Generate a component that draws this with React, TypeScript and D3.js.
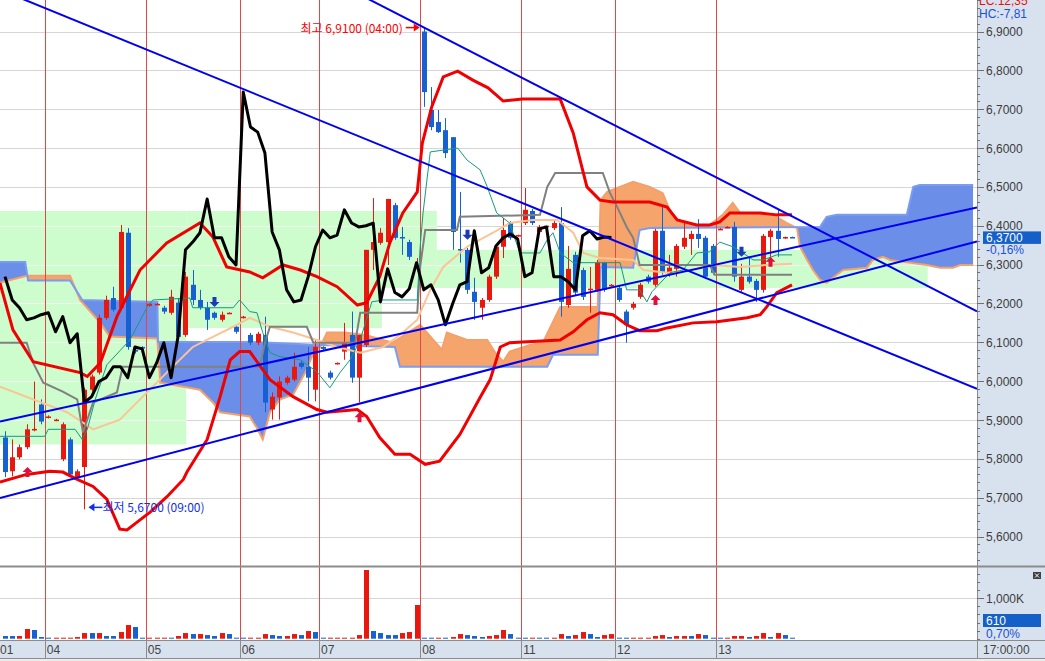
import React from 'react';
import * as d3 from 'd3';

type Knot = [number, number];

// ---------- DATA ----------
const dayLabels = ['01', '04', '05', '06', '07', '08', '11', '12', '13'];
const dayFirstBar = [0, 6, 20, 33, 44, 58, 72, 85, 99];

const open = [
  5.855, 5.768, 5.804, 5.830, 5.876, 5.940, 5.908, 5.900, 5.799, 5.850,
  5.753, 5.779, 5.978, 6.022, 6.163, 6.214, 6.189, 6.382, 6.081, 6.088,
  6.194, 6.199, 6.189, 6.176, 6.202, 6.119, 6.248, 6.209, 6.189, 6.176,
  6.158, 6.175, 6.140, 6.163, 6.119, 6.099, 6.119, 5.927, 5.958, 5.996,
  6.004, 6.047, 6.037, 5.978, 6.088, 6.022, 6.045, 6.076, 6.119, 6.009,
  6.093, 6.338, 6.356, 6.358, 6.453, 6.371, 6.358, 6.297, 6.900, 6.698,
  6.667, 6.646, 6.628, 6.340, 6.338, 6.230, 6.189, 6.209, 6.269, 6.346,
  6.407, 6.374, 6.407, 6.438, 6.384, 6.397, 6.394, 6.407, 6.196, 6.325,
  6.286, 6.237, 6.235, 6.305, 6.245, 6.240, 6.179, 6.189, 6.217, 6.269,
  6.248, 6.387, 6.276, 6.289, 6.346, 6.366, 6.379, 6.369, 6.348, 6.392,
  6.397, 6.397, 6.235, 6.269, 6.258, 6.235, 6.371, 6.387, 6.369, 6.371,
];
const high = [
  5.871, 5.850, 5.837, 5.889, 5.999, 5.953, 5.912, 5.903, 5.894, 5.855,
  5.773, 5.983, 6.017, 6.171, 6.220, 6.243, 6.402, 6.394, 6.086, 6.090,
  6.200, 6.201, 6.194, 6.235, 6.214, 6.281, 6.286, 6.235, 6.204, 6.179,
  6.179, 6.177, 6.145, 6.168, 6.124, 6.127, 6.166, 5.971, 6.012, 6.014,
  6.073, 6.053, 6.088, 6.106, 6.090, 6.027, 6.048, 6.150, 6.179, 6.119,
  6.338, 6.471, 6.394, 6.469, 6.459, 6.397, 6.364, 6.317, 6.910, 6.757,
  6.698, 6.677, 6.628, 6.487, 6.343, 6.266, 6.214, 6.274, 6.351, 6.420,
  6.412, 6.377, 6.497, 6.443, 6.402, 6.399, 6.412, 6.448, 6.348, 6.333,
  6.292, 6.294, 6.312, 6.307, 6.250, 6.245, 6.184, 6.204, 6.253, 6.274,
  6.392, 6.448, 6.325, 6.353, 6.412, 6.387, 6.417, 6.374, 6.353, 6.394,
  6.399, 6.410, 6.302, 6.320, 6.263, 6.379, 6.392, 6.441, 6.372, 6.372,
];
const low = [
  5.753, 5.755, 5.799, 5.825, 5.871, 5.889, 5.904, 5.897, 5.794, 5.755,
  5.747, 5.670, 5.973, 6.017, 6.158, 6.179, 6.184, 6.081, 6.071, 6.086,
  6.192, 6.197, 6.173, 6.171, 6.106, 6.114, 6.196, 6.184, 6.132, 6.158,
  6.153, 6.173, 6.122, 6.161, 6.093, 6.093, 5.920, 5.901, 5.901, 5.991,
  5.999, 6.032, 5.948, 5.948, 6.080, 6.004, 6.043, 6.055, 5.996, 5.945,
  6.088, 6.286, 6.351, 6.299, 6.364, 6.325, 6.312, 6.292, 6.706, 6.646,
  6.639, 6.574, 6.338, 6.305, 6.225, 6.158, 6.158, 6.204, 6.263, 6.317,
  6.364, 6.372, 6.402, 6.402, 6.379, 6.395, 6.389, 6.166, 6.189, 6.220,
  6.209, 6.176, 6.230, 6.230, 6.243, 6.204, 6.099, 6.184, 6.212, 6.251,
  6.243, 6.274, 6.269, 6.269, 6.340, 6.325, 6.343, 6.263, 6.274, 6.390,
  6.395, 6.256, 6.230, 6.251, 6.204, 6.228, 6.320, 6.320, 6.366, 6.369,
];
const close = [
  5.766, 5.804, 5.830, 5.876, 5.877, 5.896, 5.909, 5.901, 5.889, 5.760,
  5.768, 5.978, 6.012, 6.163, 6.209, 6.184, 6.384, 6.088, 6.076, 6.087,
  6.199, 6.199, 6.179, 6.217, 6.114, 6.269, 6.209, 6.189, 6.158, 6.163,
  6.171, 6.176, 6.127, 6.166, 6.099, 6.122, 5.945, 5.960, 5.999, 6.009,
  6.037, 6.037, 6.009, 6.088, 6.083, 6.009, 6.047, 6.099, 6.009, 6.119,
  6.338, 6.358, 6.382, 6.469, 6.369, 6.369, 6.320, 6.299, 6.744, 6.654,
  6.641, 6.587, 6.384, 6.338, 6.235, 6.204, 6.209, 6.269, 6.346, 6.389,
  6.369, 6.376, 6.441, 6.407, 6.397, 6.400, 6.407, 6.204, 6.289, 6.228,
  6.217, 6.238, 6.305, 6.235, 6.248, 6.209, 6.145, 6.199, 6.248, 6.256,
  6.387, 6.279, 6.292, 6.348, 6.369, 6.379, 6.366, 6.269, 6.279, 6.392,
  6.397, 6.269, 6.269, 6.256, 6.235, 6.374, 6.387, 6.366, 6.371, 6.370,
];

// volume in thousands, and its colour flag (1 = up/red, 0 = down/blue)
const volume = [
  66, 66, 66, 240, 215, 41,
  16, 16, 16, 16, 41, 140, 140, 140, 66, 66, 165, 338, 289, 16,
  16, 16, 16, 16, 66, 140, 115, 115, 90, 66, 140, 115, 16,
  16, 16, 16, 115, 90, 66, 66, 115, 90, 190, 165,
  16, 16, 16, 16, 16, 90, 1700, 190, 140, 90, 90, 140, 165, 834,
  16, 16, 16, 16, 41, 115, 90, 66, 41, 66, 90, 215, 115, 16,
  16, 16, 16, 16, 16, 115, 66, 90, 165, 115, 41, 90, 115,
  16, 16, 16, 16, 16, 66, 90, 41, 66, 66, 66, 115, 90, 16,
  16, 16, 66, 66, 41, 66, 140, 41, 140, 90, 16,
];
const volUp = [
  0, 0, 1, 1, 0, 0,
  0, 1, 1, 1, 1, 1, 0, 1, 0, 0, 1, 1, 0, 0,
  1, 1, 1, 0, 1, 1, 0, 1, 0, 0, 1, 0, 0,
  0, 1, 1, 1, 0, 0, 1, 1, 0, 1, 0,
  0, 1, 1, 1, 1, 1, 1, 0, 0, 0, 0, 1, 1, 1,
  0, 0, 1, 0, 1, 1, 0, 0, 0, 1, 1, 1, 0, 0,
  0, 1, 0, 0, 1, 1, 0, 1, 1, 0, 0, 1, 1,
  0, 0, 1, 1, 1, 1, 1, 0, 1, 1, 0, 1, 0, 0,
  0, 1, 1, 1, 0, 1, 1, 0, 1, 0, 0,
];

const chikouShift = 25;

// indicator lines: [bar index, price]
const bbUpper: Knot[] = [
  [-0.7, 6.253], [1.1, 6.132], [3.9, 6.050], [10.4, 6.022], [11.4, 6.012], [13.2, 6.047],
  [15.5, 6.166], [18.7, 6.286], [22.4, 6.356], [27.0, 6.407], [28.8, 6.371], [30.7, 6.294],
  [33.9, 6.281], [35.7, 6.266], [38.5, 6.299], [40.9, 6.286], [43.2, 6.269], [46.0, 6.243],
  [48.8, 6.196], [50.1, 6.202], [51.9, 6.269], [53.3, 6.356], [55.1, 6.433], [57.1, 6.487],
  [57.8, 6.613], [59.1, 6.706], [60.7, 6.783], [62.7, 6.798], [64.8, 6.775], [66.9, 6.755],
  [69.0, 6.721], [71.7, 6.726], [76.9, 6.726], [78.7, 6.639], [80.6, 6.500], [82.4, 6.466],
  [84.2, 6.461], [89.3, 6.461], [91.7, 6.448], [93.1, 6.415], [95.8, 6.402], [97.6, 6.402],
  [99.0, 6.410], [100.4, 6.433], [104.6, 6.433], [106.9, 6.428], [109.0, 6.428],
];
const bbLower: Knot[] = [
  [-0.7, 5.740], [3.0, 5.760], [6.2, 5.768], [8.0, 5.766], [10.0, 5.747], [12.2, 5.729],
  [14.1, 5.696], [15.9, 5.619], [16.9, 5.617], [18.3, 5.637], [20.1, 5.663], [22.4, 5.702],
  [24.7, 5.747], [25.2, 5.766], [28.0, 5.850], [29.8, 5.960], [31.2, 6.055], [32.5, 6.076],
  [33.9, 6.076], [36.7, 6.004], [39.9, 5.960], [43.2, 5.927], [44.6, 5.920], [48.8, 5.927],
  [50.1, 5.909], [51.9, 5.855], [54.0, 5.812], [56.1, 5.812], [58.2, 5.786], [60.2, 5.794],
  [63.0, 5.863], [65.8, 5.958], [67.2, 6.004], [68.6, 6.088], [69.9, 6.099], [71.7, 6.101],
  [76.9, 6.106], [78.7, 6.127], [80.6, 6.158], [82.4, 6.176], [84.2, 6.171], [86.1, 6.145],
  [87.9, 6.130], [90.3, 6.130], [91.7, 6.137], [95.3, 6.150], [98.6, 6.153], [102.8, 6.163],
  [104.6, 6.171], [105.5, 6.191], [106.9, 6.228], [109.0, 6.248],
];
const movingAvg: Knot[] = [
  [-0.7, 5.986], [3.9, 5.953], [8.6, 5.920], [12.2, 5.876], [15.9, 5.901], [18.7, 5.953],
  [22.4, 6.022], [26.0, 6.088], [28.8, 6.114], [31.6, 6.140], [33.9, 6.163], [36.7, 6.140],
  [39.9, 6.125], [43.2, 6.106], [46.0, 6.088], [49.2, 6.073], [52.4, 6.088], [55.1, 6.125],
  [57.1, 6.158], [58.9, 6.235], [60.7, 6.294], [64.0, 6.346], [67.6, 6.382], [69.9, 6.407],
  [73.1, 6.415], [76.5, 6.415], [78.7, 6.382], [80.1, 6.330], [82.4, 6.317], [87.0, 6.312],
  [88.4, 6.286], [91.7, 6.279], [95.3, 6.286], [98.1, 6.299], [101.8, 6.294], [105.5, 6.299],
  [109.0, 6.302],
];
const tenkan: Knot[] = [
  [-0.7, 5.858], [5.5, 5.858], [6.0, 5.876], [9.7, 5.876], [10.7, 5.850], [11.4, 5.876],
  [12.5, 5.953], [14.1, 6.042], [17.3, 6.106], [19.7, 6.191], [20.5, 6.209], [25.6, 6.214],
  [26.0, 6.189], [31.6, 6.189], [32.5, 6.209], [33.9, 6.179], [34.9, 6.176], [35.7, 6.125],
  [36.7, 6.073], [38.1, 6.063], [40.9, 6.055], [43.2, 6.024], [45.0, 5.983], [46.4, 6.022],
  [47.8, 6.055], [49.2, 6.106], [50.8, 6.204], [52.4, 6.209], [57.1, 6.209], [57.5, 6.346],
  [57.9, 6.433], [58.9, 6.590], [62.7, 6.600], [64.0, 6.569], [65.8, 6.544], [66.8, 6.500],
  [68.1, 6.433], [69.9, 6.407], [71.3, 6.330], [74.1, 6.330], [75.1, 6.364], [75.9, 6.382],
  [76.9, 6.330], [78.7, 6.305], [85.2, 6.305], [86.1, 6.235], [87.9, 6.235], [88.9, 6.204],
  [89.6, 6.230], [92.1, 6.279], [93.9, 6.286], [95.8, 6.330], [97.6, 6.333], [99.0, 6.358],
  [100.8, 6.346], [102.2, 6.330], [103.6, 6.312], [105.0, 6.312], [106.9, 6.325], [109.0, 6.325],
];
const kijun: Knot[] = [
  [-0.7, 6.099], [3.0, 6.099], [3.9, 6.047], [5.3, 5.996], [8.0, 5.973], [10.0, 5.953],
  [10.8, 5.868], [12.2, 5.945], [15.5, 5.971], [16.3, 6.037], [35.3, 6.037], [36.0, 6.099],
  [36.7, 6.140], [41.8, 6.140], [42.7, 6.099], [48.5, 6.099], [49.2, 6.176], [57.1, 6.176],
  [57.5, 6.294], [58.2, 6.389], [62.6, 6.389], [63.0, 6.423], [74.1, 6.428], [75.1, 6.500],
  [76.2, 6.536], [82.8, 6.536], [83.8, 6.484], [84.8, 6.448], [86.1, 6.397], [87.0, 6.369],
  [87.9, 6.299], [97.6, 6.299], [98.3, 6.274], [109.0, 6.274],
];
const spanA: Knot[] = [
  [-0.7, 6.253], [3.0, 6.271], [9.0, 6.271], [10.4, 6.209], [13.2, 6.150], [14.5, 6.115],
  [21.1, 6.110], [21.5, 5.996], [27.0, 5.978], [28.8, 5.945], [29.8, 5.920], [33.9, 5.909],
  [35.0, 5.876], [35.7, 5.850], [36.7, 5.920], [38.1, 5.953], [39.9, 5.965], [41.8, 6.030],
  [42.7, 6.073], [43.6, 6.086], [44.6, 6.125], [47.1, 6.125], [49.9, 6.119], [53.7, 6.099],
  [57.5, 6.145], [60.5, 6.081], [61.2, 6.125], [64.0, 6.106], [66.8, 6.106], [67.9, 6.073],
  [69.0, 6.050], [69.9, 6.076], [72.7, 6.093], [74.5, 6.099], [76.9, 6.191], [82.1, 6.191],
  [82.5, 6.466], [83.4, 6.487], [87.0, 6.513], [89.3, 6.500], [91.1, 6.484], [92.5, 6.420],
  [94.5, 6.402], [95.8, 6.397], [97.6, 6.402], [99.4, 6.428], [100.8, 6.459], [101.8, 6.433],
  [106.4, 6.428], [108.3, 6.407], [109.7, 6.394], [110.1, 6.346], [111.1, 6.312], [111.9, 6.286],
  [112.9, 6.261], [113.8, 6.253], [115.2, 6.274], [116.1, 6.286], [119.4, 6.292], [120.2, 6.312],
  [121.6, 6.320], [122.6, 6.312], [124.4, 6.307], [127.7, 6.299], [129.5, 6.292], [131.3, 6.292],
  [132.3, 6.299], [134.1, 6.299],
];
const spanB: Knot[] = [
  [-0.7, 6.307], [2.8, 6.307], [3.2, 6.259], [9.0, 6.259], [10.7, 6.209], [21.1, 6.204],
  [21.2, 6.101], [33.9, 6.101], [43.6, 6.093], [54.0, 6.088], [54.7, 6.037], [75.1, 6.037],
  [75.9, 6.068], [82.1, 6.068], [82.5, 6.294], [87.0, 6.292], [87.9, 6.389], [89.3, 6.394],
  [112.9, 6.397], [113.8, 6.423], [115.2, 6.428], [124.9, 6.428], [125.8, 6.500], [126.7, 6.505],
  [134.1, 6.505],
];

// box indicator: [start index, end index, top price, bottom price]
const boxes: [number, number, number, number][] = [
  [-0.7, 25.1, 6.438, 5.837],
  [25.1, 52.2, 6.438, 6.137],
  [52.2, 59.8, 6.438, 6.240],
  [59.8, 127.8, 6.338, 6.240],
];

// trend lines: [index0, price0, index1, price1]
const trendLines: [number, number, number, number][] = [
  [2.8, 6.981, 134.3, 5.983],
  [50.6, 6.981, 134.3, 6.183],
  [-0.7, 5.896, 134.3, 6.446],
  [-0.7, 5.699, 134.3, 6.358],
];

// signals: [bar index, tip price]
const buySignals: Knot[] = [[3, 5.779], [49, 5.920], [90, 6.222], [106, 6.320]];
const sellSignals: Knot[] = [[29, 6.191], [64, 6.364], [102, 6.320]];

const highBar = 58;
const lowBar = 11;
const highText = '최고 6,9100 (04:00)';
const lowText = '최저 5,6700 (09:00)';
const lastPriceText = '6,3700';
const lastChangeText = '-0,16%';
const lastVolText = '610';
const lastVolChange = '0,70%';
const lcText = 'LC:12,35';
const hcText = 'HC:-7,81';
const timeText = '17:00:00';

// ---------- HELPERS ----------
function interp(k: Knot[], t: number): number {
  if (t <= k[0][0]) return k[0][1];
  for (let i = 1; i < k.length; i++) {
    if (t <= k[i][0]) {
      const [t0, v0] = k[i - 1];
      const [t1, v1] = k[i];
      return v0 + ((v1 - v0) * (t - t0)) / (t1 - t0 || 1);
    }
  }
  return k[k.length - 1][1];
}
const fmtPrice = (v: number) => v.toFixed(4).replace('.', ',');

const RED = '#e8180e';
const BLUE = '#1660d2';
const PLOT_R = 977;
const MAIN_B = 566;
const VOL_T = 567;
const VOL_B = 640;
const AX_B = 658;
const AXIS_BG = '#d8e2ef';

export default function App() {
  const x = d3.scaleLinear().domain([0, 135]).range([5, 5 + 135 * 7.22]);
  const y = d3.scaleLinear().domain([5.6, 6.9]).range([536.55, 31.5]);
  const yv = d3.scaleLinear().domain([0, 1000]).range([638.7, 598.3]);

  const line = d3
    .line<Knot>()
    .x((d) => x(d[0]))
    .y((d) => y(d[1]));

  // cloud samples
  const t0 = Math.max(spanA[0][0], spanB[0][0]);
  const t1 = Math.min(spanA[spanA.length - 1][0], spanB[spanB.length - 1][0]);
  const ts = Array.from(
    new Set([...d3.range(t0, t1, 0.1), ...spanA.map((d) => d[0]), ...spanB.map((d) => d[0]), t1])
  )
    .filter((t) => t >= t0 && t <= t1)
    .sort((a, b) => a - b);
  const cloud = ts.map((t) => ({ t, a: interp(spanA, t), b: interp(spanB, t) }));
  const between = d3
    .area<{ t: number; a: number; b: number }>()
    .x((d) => x(d.t))
    .y0((d) => y(d.a))
    .y1((d) => y(d.b));
  const aboveB = d3
    .area<{ t: number; a: number; b: number }>()
    .x((d) => x(d.t))
    .y0(-50)
    .y1((d) => y(d.b));
  const belowB = d3
    .area<{ t: number; a: number; b: number }>()
    .x((d) => x(d.t))
    .y0((d) => y(d.b))
    .y1(700);

  const majorTicks = d3.range(56, 70).map((v) => v / 10);
  const minorTicks = d3.range(275, 351).map((v) => v / 50).filter((v) => y(v) > 0 && y(v) < MAIN_B);
  const volMinor = d3.range(0, 1801, 200);

  const seps = dayFirstBar.slice(1).map((b) => x(b - 0.5));
  const chikou: Knot[] = close.slice(chikouShift).map((c, j) => [j, c]);

  const hx = x(highBar) - 4;
  const hy = y(high[highBar]);
  const lx = x(lowBar) + 4;
  const ly = y(low[lowBar]) - 2;

  const upArrow = (cx: number, ty: number) =>
    `M${cx},${ty} L${cx + 5},${ty + 5} L${cx + 2},${ty + 5} L${cx + 2},${ty + 10} L${cx - 2},${ty + 10} L${cx - 2},${ty + 5} L${cx - 5},${ty + 5} Z`;
  const downArrow = (cx: number, by: number) =>
    `M${cx},${by} L${cx + 5},${by - 5} L${cx + 2},${by - 5} L${cx + 2},${by - 10} L${cx - 2},${by - 10} L${cx - 2},${by - 5} L${cx - 5},${by - 5} Z`;

  const trend = trendLines.map(([i0, p0, i1, p1]) => {
    const X0 = x(i0), Y0 = y(p0), X1 = x(i1), Y1 = y(p1);
    const m = (Y1 - Y0) / (X1 - X0);
    return { xa: 0, ya: Y0 - m * X0, xb: PLOT_R, yb: Y0 + m * (PLOT_R - X0) };
  });

  const font = "'Liberation Sans', Arial, sans-serif";

  return (
    <svg
      width={1045}
      height={661}
      style={{ position: 'absolute', left: 0, top: 0, display: 'block' }}
      fontFamily={font}
    >
      <defs>
        <clipPath id="clipMain">
          <rect x={0} y={0} width={PLOT_R} height={MAIN_B} />
        </clipPath>
        <clipPath id="clipVol">
          <rect x={0} y={VOL_T} width={PLOT_R} height={VOL_B - VOL_T} />
        </clipPath>
        <clipPath id="clipAbove">
          <path d={aboveB(cloud) || ''} />
        </clipPath>
        <clipPath id="clipBelow">
          <path d={belowB(cloud) || ''} />
        </clipPath>
      </defs>
      <rect x={0} y={0} width={1045} height={661} fill="#fff" />

      {/* main panel */}
      <g clipPath="url(#clipMain)">
        {majorTicks.map((v) => (
          <line key={'g' + v} x1={0} x2={PLOT_R} y1={Math.round(y(v)) + 0.5} y2={Math.round(y(v)) + 0.5} stroke="#d6d6d6" />
        ))}
        {boxes.map(([i0, i1, pt, pb], k) => (
          <g key={'b' + k}>
            <rect x={x(i0)} y={y(pt)} width={x(i1) - x(i0)} height={y(pb) - y(pt)} fill="#cdfccd" />
            {majorTicks
              .filter((v) => v < pt && v > pb)
              .map((v) => (
                <line key={v} x1={x(i0)} x2={x(i1)} y1={Math.round(y(v)) + 0.5} y2={Math.round(y(v)) + 0.5} stroke="#f2f2f2" />
              ))}
          </g>
        ))}

        {/* cloud */}
        <path d={between(cloud) || ''} fill="#f5a46c" clipPath="url(#clipAbove)" />
        <path d={between(cloud) || ''} fill="#6b8ee8" clipPath="url(#clipBelow)" />
        <path d={line(spanA) || ''} fill="none" stroke="#f4a06a" strokeWidth={2} />
        <path d={line(spanB) || ''} fill="none" stroke="#7b9cf0" strokeWidth={2} />

        {/* day separators */}
        {seps.map((sx, k) => (
          <line key={'s' + k} x1={Math.round(sx) + 0.5} x2={Math.round(sx) + 0.5} y1={0} y2={MAIN_B} stroke="#e04848" />
        ))}

        {/* candles */}
        {close.map((c, i) => {
          const o = open[i];
          const col = c >= o ? RED : BLUE;
          const cx = Math.round(x(i));
          const top = Math.min(y(o), y(c));
          const h = Math.max(1.5, Math.abs(y(o) - y(c)));
          return (
            <g key={'c' + i}>
              <line x1={cx + 0.5} x2={cx + 0.5} y1={y(high[i])} y2={y(low[i])} stroke={col} />
              <rect x={cx - 2} y={top} width={5} height={h} fill={col} />
            </g>
          );
        })}

        {/* indicators */}
        <path d={line(movingAvg) || ''} fill="none" stroke="#fcc494" strokeWidth={2} />
        <path d={line(kijun) || ''} fill="none" stroke="#808080" strokeWidth={2} />
        <path d={line(tenkan) || ''} fill="none" stroke="#149a82" strokeWidth={1} />
        <path d={line(bbUpper) || ''} fill="none" stroke="#f00000" strokeWidth={3} />
        <path d={line(bbLower) || ''} fill="none" stroke="#f00000" strokeWidth={3} />
        <path d={line(chikou) || ''} fill="none" stroke="#000" strokeWidth={3} strokeLinejoin="round" />

        {/* trend lines */}
        {trend.map((t, k) => (
          <line key={'t' + k} x1={t.xa} y1={t.ya} x2={t.xb} y2={t.yb} stroke="#0000f0" strokeWidth={2} />
        ))}

        {/* signals */}
        {buySignals.map(([i, p], k) => (
          <path key={'u' + k} d={upArrow(Math.round(x(i)) + 0.5, y(p))} fill="#e0103c" />
        ))}
        {sellSignals.map(([i, p], k) => (
          <path key={'d' + k} d={downArrow(Math.round(x(i)) + 0.5, y(p))} fill="#1a3ab8" />
        ))}

        {/* high / low annotations */}
        <line x1={hx - 14} x2={hx - 4} y1={hy} y2={hy} stroke="#f00" strokeWidth={1.5} />
        <path d={`M${hx},${hy} L${hx - 6},${hy - 4} L${hx - 6},${hy + 4} Z`} fill="#f00" />
        <text x={hx - 17} y={hy + 5} fontSize={12} fill="#f00" textAnchor="end" fontFamily="'Noto Sans CJK KR', sans-serif">
          {highText}
        </text>
        <line x1={lx + 4} x2={lx + 14} y1={ly} y2={ly} stroke="#1030e8" strokeWidth={1.5} />
        <path d={`M${lx},${ly} L${lx + 6},${ly - 4} L${lx + 6},${ly + 4} Z`} fill="#1030e8" />
        <text x={lx + 14} y={ly + 5} fontSize={12} fill="#1030e8" fontFamily="'Noto Sans CJK KR', sans-serif">
          {lowText}
        </text>
      </g>

      {/* volume panel */}
      <g clipPath="url(#clipVol)">
        <line x1={0} x2={PLOT_R} y1={Math.round(yv(1000)) + 0.5} y2={Math.round(yv(1000)) + 0.5} stroke="#d6d6d6" />
        {seps.map((sx, k) => (
          <line key={'vs' + k} x1={Math.round(sx) + 0.5} x2={Math.round(sx) + 0.5} y1={VOL_T} y2={VOL_B} stroke="#e04848" />
        ))}
        {volume.map((v, i) => {
          const top = Math.min(yv(v), yv(0) - 1);
          return (
            <rect key={'v' + i} x={Math.round(x(i)) - 2} y={top} width={5} height={yv(0) - top} fill={volUp[i] ? RED : BLUE} />
          );
        })}
      </g>

      {/* right axis panel */}
      <rect x={PLOT_R + 1} y={0} width={1045 - PLOT_R - 1} height={AX_B} fill={AXIS_BG} />
      <line x1={PLOT_R + 0.5} x2={PLOT_R + 0.5} y1={0} y2={AX_B} stroke="#8c8c8c" />
      {minorTicks.map((v) => (
        <line key={'mt' + v} x1={PLOT_R} x2={PLOT_R + 3} y1={Math.round(y(v)) + 0.5} y2={Math.round(y(v)) + 0.5} stroke="#707070" />
      ))}
      {majorTicks.map((v) => (
        <g key={'mj' + v}>
          <line x1={PLOT_R} x2={PLOT_R + 7} y1={Math.round(y(v)) + 0.5} y2={Math.round(y(v)) + 0.5} stroke="#707070" />
          <text x={986} y={y(v) + 4.5} fontSize={12} fill="#3c3c3c">
            {fmtPrice(v)}
          </text>
        </g>
      ))}
      <text x={979} y={5} fontSize={12} fill="#e81010">
        {lcText}
      </text>
      <text x={979} y={18} fontSize={12} fill="#1a50d8">
        {hcText}
      </text>
      <rect x={983} y={y(close[close.length - 1]) - 6} width={58} height={12.5} fill="#1560c8" />
      <text x={986} y={y(close[close.length - 1]) + 4.5} fontSize={12} fill="#fff">
        {lastPriceText}
      </text>
      <text x={986} y={y(close[close.length - 1]) + 17} fontSize={12} fill="#1a50d8">
        {lastChangeText}
      </text>

      {/* volume axis */}
      {volMinor.map((v) => (
        <line key={'vm' + v} x1={PLOT_R} x2={PLOT_R + (v === 1000 ? 7 : 3)} y1={Math.round(yv(v)) + 0.5} y2={Math.round(yv(v)) + 0.5} stroke="#707070" />
      ))}
      <text x={986} y={yv(1000) + 4.5} fontSize={12} fill="#3c3c3c">
        1,000K
      </text>
      <rect x={983} y={614} width={58} height={13} fill="#1560c8" />
      <text x={986} y={625} fontSize={12} fill="#fff">
        {lastVolText}
      </text>
      <text x={986} y={637.5} fontSize={12} fill="#1a50d8">
        {lastVolChange}
      </text>
      <rect x={1033} y={572} width={8} height={7} fill="#404040" />
      <path d="M1035,573.5 L1039,577.5 M1039,573.5 L1035,577.5" stroke="#fff" strokeWidth={1} />

      {/* panel dividers */}
      <line x1={0} x2={1045} y1={MAIN_B + 0.5} y2={MAIN_B + 0.5} stroke="#8c8c8c" strokeWidth={2} />
      <rect x={0} y={VOL_B} width={1045} height={AX_B - VOL_B} fill={AXIS_BG} />
      <line x1={0} x2={1045} y1={VOL_B + 0.5} y2={VOL_B + 0.5} stroke="#8c8c8c" />
      <line x1={0} x2={1045} y1={AX_B + 0.5} y2={AX_B + 0.5} stroke="#8c8c8c" />
      <rect x={0} y={AX_B + 1} width={1045} height={661 - AX_B - 1} fill="#ececec" />

      {/* time axis */}
      {seps.map((sx, k) => (
        <line key={'as' + k} x1={Math.round(sx) + 0.5} x2={Math.round(sx) + 0.5} y1={VOL_B} y2={AX_B} stroke="#8c8c8c" />
      ))}
      <line x1={PLOT_R + 0.5} x2={PLOT_R + 0.5} y1={VOL_B} y2={AX_B} stroke="#8c8c8c" />
      {dayLabels.map((lab, k) => (
        <text key={'dl' + k} x={k === 0 ? 0 : seps[k - 1] + 2} y={654} fontSize={12} fill="#444">
          {lab}
        </text>
      ))}
      <text x={983} y={654} fontSize={12} fill="#444">
        {timeText}
      </text>
    </svg>
  );
}
